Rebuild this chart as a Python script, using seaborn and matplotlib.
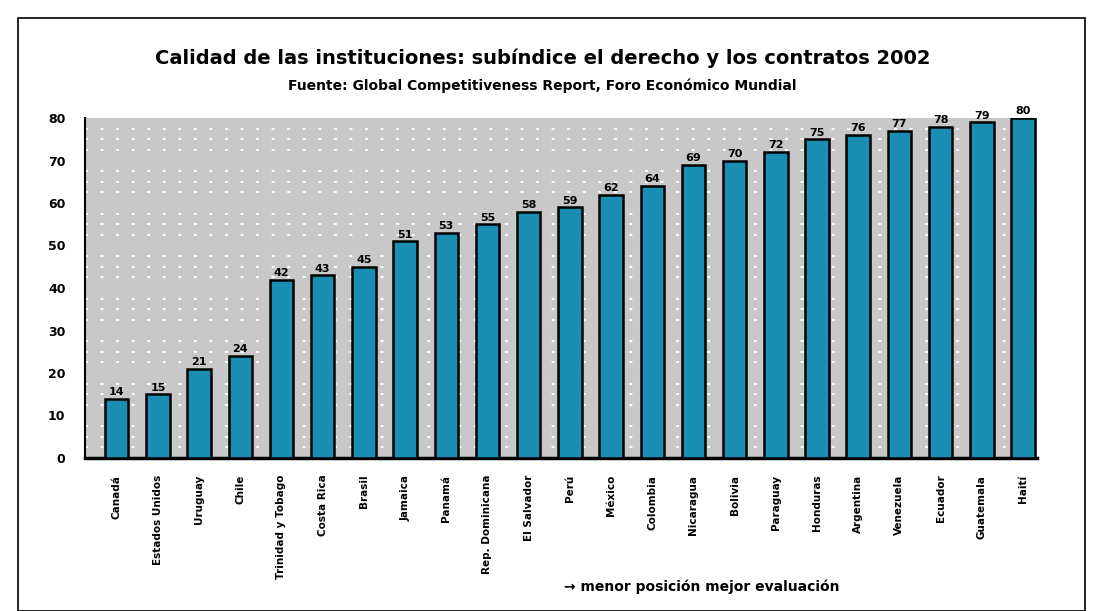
import matplotlib
matplotlib.use("Agg")
import matplotlib.pyplot as plt
import pandas as pd
import seaborn as sns
from matplotlib.patches import Rectangle

# data
paises = ["Canadá", "Estados Unidos", "Uruguay", "Chile", "Trinidad y Tobago",
          "Costa Rica", "Brasil", "Jamaica", "Panamá", "Rep. Dominicana",
          "El Salvador", "Perú", "México", "Colombia", "Nicaragua", "Bolivia",
          "Paraguay", "Honduras", "Argentina", "Venezuela", "Ecuador",
          "Guatemala", "Haití"]
posicion = [14, 15, 21, 24, 42, 43, 45, 51, 53, 55, 58, 59, 62, 64, 69, 70,
            72, 75, 76, 77, 78, 79, 80]
y_ticks = [0, 10, 20, 30, 40, 50, 60, 70, 80]

titulo = "Calidad de las instituciones: subíndice el derecho y los contratos 2002"
fuente = "Fuente: Global Competitiveness Report, Foro Económico Mundial"
nota = "→ menor posición mejor evaluación"

df = pd.DataFrame({"pais": paises, "posicion": posicion})

sns.set_style("white")
plt.rcParams["font.family"] = ["DejaVu Sans"]
plt.rcParams["text.color"] = "black"
plt.rcParams["xtick.color"] = "black"
plt.rcParams["ytick.color"] = "black"

fig = plt.figure(figsize=(11.02, 6.11), dpi=100)
ax = fig.add_axes([85 / 1102, 1 - 458 / 611, (1037 - 85) / 1102, (458 - 118) / 611])
ax.set_facecolor("#C8C8C8")

sns.barplot(data=df, x="pais", y="posicion", color="#1A8DB2", saturation=1,
            edgecolor="black", linewidth=1.8, width=0.57, ax=ax, zorder=3)

# dotted white pattern of the background
ax.set_yticks([v * 2.5 for v in range(0, 33)], minor=True)
ax.grid(True, which="minor", axis="y", color="white", linestyle=(0, (1.5, 6.5)),
        linewidth=1.4, zorder=0)
ax.grid(False, which="major")
ax.tick_params(axis="y", which="minor", length=0)

for i, v in enumerate(posicion):
    ax.text(i, v + 0.4, str(v), ha="center", va="bottom", fontsize=8,
            fontweight="bold", zorder=4)

ax.set_xlim(-0.77, len(paises) - 1 + 0.34)
ax.set_ylim(0, 80)
ax.set_yticks(y_ticks)
ax.set_yticklabels([str(t) for t in y_ticks], fontsize=9, fontweight="bold")
ax.set_xticks(range(len(paises)))
ax.set_xticklabels(paises, rotation=90, fontsize=7.5, fontweight="bold", va="top")
ax.tick_params(axis="y", which="major", direction="inout", length=8, width=1.5, pad=10)
ax.tick_params(axis="x", length=0, pad=12)
ax.set_xlabel("")
ax.set_ylabel("")

for s in ["top", "right"]:
    ax.spines[s].set_visible(False)
ax.spines["left"].set_linewidth(1.5)
ax.spines["bottom"].set_linewidth(2.5)
ax.spines["left"].set_color("black")
ax.spines["bottom"].set_color("black")

fig.text(543 / 1102, 1 - 58 / 611, titulo, ha="center", va="center",
         fontsize=14, fontweight="bold")
fig.text(542 / 1102, 1 - 86 / 611, fuente, ha="center", va="center",
         fontsize=10, fontweight="bold")
fig.text(702 / 1102, 1 - 587 / 611, nota, ha="center", va="center",
         fontsize=10, fontweight="bold")

fig.patches.append(Rectangle((18 / 1102, 0), (1085 - 18) / 1102, 1 - 18 / 611,
                             transform=fig.transFigure, fill=False,
                             edgecolor="black", linewidth=1.2))

fig.savefig("out.png", dpi=100)
